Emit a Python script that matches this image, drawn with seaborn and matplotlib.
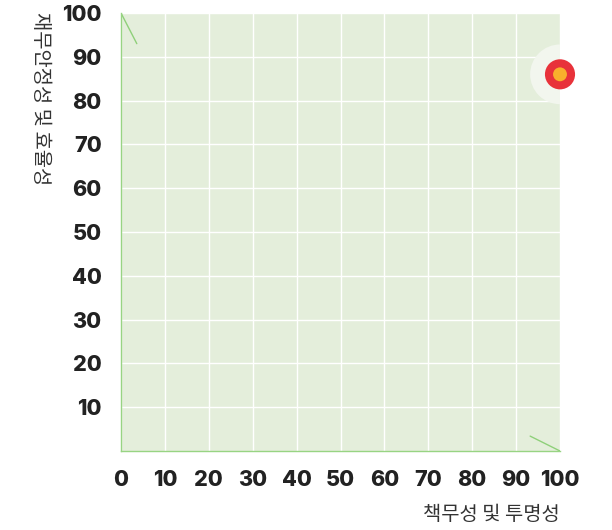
import matplotlib
matplotlib.use("Agg")
import matplotlib.pyplot as plt
import seaborn as sns
import pandas as pd

# data
x_vals = [100]
y_vals = [86]
x_ticks = [0, 10, 20, 30, 40, 50, 60, 70, 80, 90, 100]
y_ticks = [10, 20, 30, 40, 50, 60, 70, 80, 90, 100]
corner_line1_x = [0, 3.6]
corner_line1_y = [100, 93]
corner_line2_x = [93.2, 100]
corner_line2_y = [3.4, 0]
x_label = "책무성 및 투명성"
y_label = "재무안정성 및 효율성"

sns.set_theme(style="white")
plt.rcParams['font.family'] = ['Inter', 'Noto Sans CJK KR', 'DejaVu Sans']

df = pd.DataFrame({"x": x_vals, "y": y_vals})

fig = plt.figure(figsize=(6.12, 5.3), dpi=100)
ax = fig.add_axes([121/612, 1-451/530, (560-121)/612, (451-13)/530])
ax.set_facecolor("#e4eedb")

ax.set_xlim(0, 100)
ax.set_ylim(0, 100)
ax.set_xticks(x_ticks)
ax.set_yticks(y_ticks)
ax.grid(True, color="white", linewidth=1)
ax.set_axisbelow(True)

for s in ["top", "right"]:
    ax.spines[s].set_visible(False)
for s in ["left", "bottom"]:
    ax.spines[s].set_color("#98d483")
    ax.spines[s].set_linewidth(1)

ax.plot(corner_line1_x, corner_line1_y, color="#8fd07a", linewidth=1)
ax.plot(corner_line2_x, corner_line2_y, color="#8fd07a", linewidth=1)

sns.scatterplot(data=df, x="x", y="y", ax=ax, s=1850, color="#f2f6ee",
                edgecolor="none", legend=False, zorder=3)
sns.scatterplot(data=df, x="x", y="y", ax=ax, s=470, color="#e8323a",
                edgecolor="none", legend=False, zorder=4)
sns.scatterplot(data=df, x="x", y="y", ax=ax, s=100, color="#f9b02c",
                edgecolor="none", legend=False, zorder=5)
colls = ax.collections
colls[-2].set_clip_on(False)
colls[-1].set_clip_on(False)

ax.tick_params(axis="x", length=0, pad=14, labelsize=15.5, labelcolor="#222222")
ax.tick_params(axis="y", length=0, pad=14, labelsize=15.5, labelcolor="#222222")
for lab in ax.get_xticklabels() + ax.get_yticklabels():
    lab.set_fontweight("heavy")

ax.set_xlabel("")
ax.set_ylabel("")
fig.text(560/612, 1-515/530, x_label, ha="right", va="center", fontsize=14.3,
         color="#333333", family=['Noto Sans CJK KR', 'DejaVu Sans'])
fig.text(40/612, 1-12/530, y_label, ha="center", va="top", rotation=270,
         fontsize=14.3, color="#333333", family=['Noto Sans CJK KR', 'DejaVu Sans'])

fig.savefig("out.png", dpi=100)
